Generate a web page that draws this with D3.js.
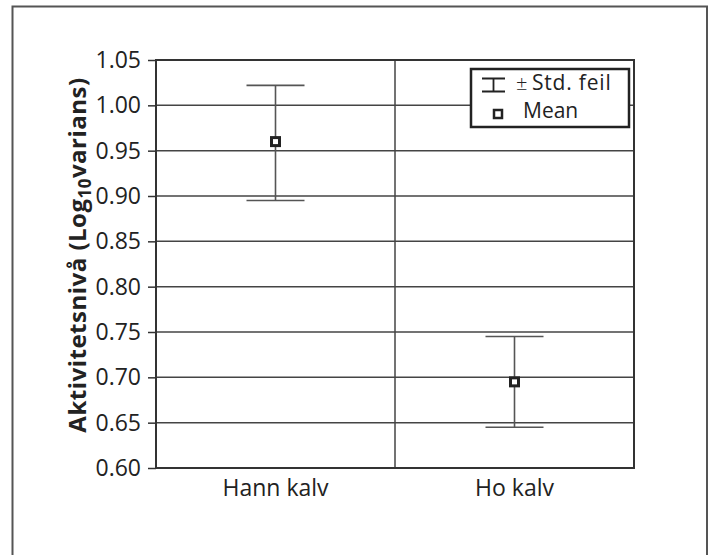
<!DOCTYPE html>
<html>
<head>
<meta charset="utf-8">
<script src="https://cdn.jsdelivr.net/npm/d3@7"></script>
<style>
  body { margin: 0; background: #fff; }
  svg { display: block; font-family: "Open Sans", sans-serif; }
</style>
</head>
<body>
<svg id="chart" width="718" height="555"></svg>
<script>
// data
const kategorier = ["Hann kalv", "Ho kalv"];
const snitt = [0.96, 0.695];
const ovre = [1.022, 0.745];
const nedre = [0.895, 0.645];
const yTicks = [0.60, 0.65, 0.70, 0.75, 0.80, 0.85, 0.90, 0.95, 1.00, 1.05];

const svg = d3.select("#chart");
const plot = { left: 156, right: 634, top: 60, bottom: 468 };

// ytre ramme (uten bunn)
svg.append("path")
  .attr("d", "M12.5,555 V6.5 H707 V555")
  .attr("fill", "none")
  .attr("stroke", "#555")
  .attr("stroke-width", 2);

const x = d3.scaleBand().domain(kategorier).range([plot.left, plot.right]);
const y = d3.scaleLinear().domain([0.60, 1.05]).range([plot.bottom, plot.top]);

// rutenett
svg.append("g")
  .selectAll("line")
  .data(yTicks.filter(t => t > 0.6 && t < 1.05))
  .enter()
  .append("line")
  .attr("x1", plot.left)
  .attr("x2", plot.right)
  .attr("y1", d => y(d))
  .attr("y2", d => y(d))
  .attr("stroke", "#444")
  .attr("stroke-width", 1.5);

// skillelinje mellom kategoriene
svg.append("line")
  .attr("x1", x(kategorier[1]))
  .attr("x2", x(kategorier[1]))
  .attr("y1", plot.top)
  .attr("y2", plot.bottom)
  .attr("stroke", "#444")
  .attr("stroke-width", 1.5);

// y-akse
const yAxis = svg.append("g")
  .attr("transform", `translate(${plot.left},0)`)
  .call(d3.axisLeft(y).tickValues(yTicks).tickFormat(d3.format(".2f")).tickSize(8).tickPadding(7));
yAxis.select(".domain").remove();
yAxis.selectAll(".tick line").attr("stroke", "#333").attr("stroke-width", 1.5);
yAxis.selectAll(".tick text")
  .attr("fill", "#222")
  .style("font-size", "23px")
  .style("font-family", "'Open Sans', sans-serif");

// x-akse etiketter
const xAxis = svg.append("g")
  .attr("transform", `translate(0,${plot.bottom})`)
  .call(d3.axisBottom(x).tickSize(0).tickPadding(12));
xAxis.select(".domain").remove();
xAxis.selectAll(".tick text")
  .attr("fill", "#222")
  .style("font-size", "23px")
  .style("font-family", "'Open Sans', sans-serif");

// feilstolper
const capW = 58;
const bars = svg.append("g")
  .selectAll("g.bar")
  .data(kategorier)
  .enter()
  .append("g")
  .attr("class", "bar")
  .attr("stroke", "#555")
  .attr("stroke-width", 1.6);

bars.append("line")
  .attr("x1", d => x(d) + x.bandwidth() / 2)
  .attr("x2", d => x(d) + x.bandwidth() / 2)
  .attr("y1", (d, i) => y(ovre[i]))
  .attr("y2", (d, i) => y(nedre[i]));
bars.append("line")
  .attr("x1", d => x(d) + x.bandwidth() / 2 - capW / 2)
  .attr("x2", d => x(d) + x.bandwidth() / 2 + capW / 2)
  .attr("y1", (d, i) => y(ovre[i]))
  .attr("y2", (d, i) => y(ovre[i]));
bars.append("line")
  .attr("x1", d => x(d) + x.bandwidth() / 2 - capW / 2)
  .attr("x2", d => x(d) + x.bandwidth() / 2 + capW / 2)
  .attr("y1", (d, i) => y(nedre[i]))
  .attr("y2", (d, i) => y(nedre[i]));

// gjennomsnitt
svg.append("g")
  .selectAll("rect")
  .data(kategorier)
  .enter()
  .append("rect")
  .attr("x", d => x(d) + x.bandwidth() / 2 - 4)
  .attr("y", (d, i) => y(snitt[i]) - 4)
  .attr("width", 8)
  .attr("height", 8)
  .attr("fill", "#fff")
  .attr("stroke", "#222")
  .attr("stroke-width", 3);

// plotramme
svg.append("rect")
  .attr("x", plot.left)
  .attr("y", plot.top)
  .attr("width", plot.right - plot.left)
  .attr("height", plot.bottom - plot.top)
  .attr("fill", "none")
  .attr("stroke", "#333")
  .attr("stroke-width", 2);

// forklaring
const leg = svg.append("g");
leg.append("rect")
  .attr("x", 471).attr("y", 69)
  .attr("width", 158).attr("height", 58)
  .attr("fill", "#fff")
  .attr("stroke", "#222")
  .attr("stroke-width", 2.5);
leg.append("path")
  .attr("d", "M482,78.5 H505 M493.5,78.5 V91.5 M482,91.5 H505")
  .attr("fill", "none")
  .attr("stroke", "#222")
  .attr("stroke-width", 1.8);
leg.append("rect")
  .attr("x", 494).attr("y", 110)
  .attr("width", 8).attr("height", 8)
  .attr("fill", "#fff")
  .attr("stroke", "#222")
  .attr("stroke-width", 2.5);
leg.append("text")
  .attr("x", 516).attr("y", 90)
  .attr("fill", "#222")
  .style("font-size", "20px")
  .style("font-weight", "300")
  .text("±");
leg.append("text")
  .attr("x", 532).attr("y", 90)
  .attr("fill", "#222")
  .style("font-size", "21px")
  .style("letter-spacing", "0.8px")
  .text("Std. feil");
leg.append("text")
  .attr("x", 523).attr("y", 118)
  .attr("fill", "#222")
  .style("font-size", "21px")
  .text("Mean");

// y-aksetittel
const tittel = svg.append("text")
  .attr("transform", "translate(86,255) rotate(-90)")
  .attr("text-anchor", "middle")
  .attr("fill", "#222")
  .style("font-size", "24px")
  .style("font-weight", "bold")
  .style("letter-spacing", "0.5px");
tittel.append("tspan").text("Aktivitetsnivå (Log");
tittel.append("tspan").attr("dy", 5).style("font-size", "17px").text("10");
tittel.append("tspan").attr("dy", -5).text("varians)");
</script>
</body>
</html>
